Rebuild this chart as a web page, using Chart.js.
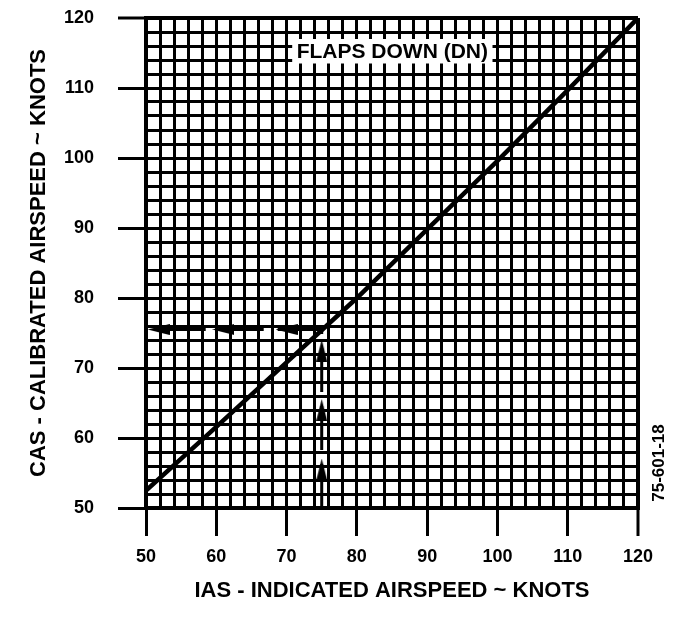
<!doctype html>
<html lang="en">
<head>
<meta charset="utf-8">
<title>Airspeed calibration - flaps down</title>
<script src="https://cdn.jsdelivr.net/npm/chart.js"></script>
<style>
  html, body { margin: 0; padding: 0; background: #fff; }
  #wrap { width: 674px; height: 618px; }
</style>
</head>
<body>
<div id="wrap"><canvas id="ias_cas" width="674" height="618"></canvas></div>
<script>
// calibration curve (IAS -> CAS, knots)
const iasKnots = [50, 60, 70, 80, 90, 100, 110, 120];
const casKnots = [52.5, 61.6, 70.8, 80, 89.8, 99.6, 109.7, 120];

// worked example: 75 kt IAS gives about 75.5 kt CAS
const exampleIas = 75;
const exampleCas = 75.5;
const upArrowsCas = [55.5, 64, 72.5];
const leftArrowsIas = [51.8, 61, 70];

// axis range, grid step and labelled ticks
const axisMin = 50;
const axisMax = 120;
const gridStep = 2;
const tickLabels = [50, 60, 70, 80, 90, 100, 110, 120];

const xTitle = 'IAS - INDICATED AIRSPEED ~ KNOTS';
const yTitle = 'CAS - CALIBRATED AIRSPEED ~ KNOTS';
const flapsLabel = 'FLAPS DOWN (DN)';
const figureId = '75-601-18';

const FONT = '"Liberation Sans", Arial, Helvetica, sans-serif';
Chart.defaults.font.family = FONT;
Chart.defaults.font.weight = 'bold';
Chart.defaults.color = '#000';

// narrow filled arrow head, tip up
function arrowHead(w, h) {
    const c = document.createElement('canvas');
    c.width = w;
    c.height = h;
    const g = c.getContext('2d');
    g.fillStyle = '#000';
    g.beginPath();
    g.moveTo(w / 2, 0);
    g.lineTo(w, h);
    g.lineTo(0, h);
    g.closePath();
    g.fill();
    return c;
}
const arrowImg = arrowHead(11, 22);

const isLabelled = v => tickLabels.includes(Math.round(v));

function gridOpts() {
    return {
        color: '#000',
        lineWidth: c => (Math.round(c.tick.value) === axisMax ? 4 : 3),
        tickLength: 28,
        tickWidth: 3,
        tickColor: c => (isLabelled(c.tick.value) ? '#000' : 'rgba(0,0,0,0)')
    };
}

// white box with the flaps label, and the figure number on the right
const notes = {
    id: 'notes',
    beforeDatasetsDraw(chart) {
        const { ctx, scales: { x, y } } = chart;
        const x1 = x.getPixelForValue(70.8), x2 = x.getPixelForValue(99.3);
        const y1 = y.getPixelForValue(117), y2 = y.getPixelForValue(113.5);
        ctx.save();
        ctx.fillStyle = '#fff';
        ctx.fillRect(x1, y1, x2 - x1, y2 - y1);
        ctx.fillStyle = '#000';
        ctx.font = 'bold 21px ' + FONT;
        ctx.textAlign = 'center';
        ctx.textBaseline = 'middle';
        ctx.fillText(flapsLabel, (x1 + x2) / 2, (y1 + y2) / 2 + 1);
        ctx.restore();
    },
    afterDraw(chart) {
        const { ctx, chartArea } = chart;
        ctx.save();
        ctx.translate(chartArea.right + 21, chartArea.bottom - 45);
        ctx.rotate(-Math.PI / 2);
        ctx.font = 'bold 17px ' + FONT;
        ctx.textAlign = 'center';
        ctx.textBaseline = 'middle';
        ctx.fillStyle = '#000';
        ctx.fillText(figureId, 0, 0);
        ctx.restore();
    }
};

new Chart(document.getElementById('ias_cas'), {
    type: 'line',
    data: {
        datasets: [
            {
                data: iasKnots.map((v, i) => ({ x: v, y: casKnots[i] })),
                borderColor: '#000',
                borderWidth: 4.5,
                pointRadius: 0,
                tension: 0
            },
            {
                data: [{ x: exampleIas, y: axisMin }, { x: exampleIas, y: exampleCas }],
                borderColor: '#000',
                borderWidth: 3,
                borderDash: [44, 14],
                pointRadius: 0
            },
            {
                data: [{ x: exampleIas, y: exampleCas }, { x: axisMin, y: exampleCas }],
                borderColor: '#000',
                borderWidth: 3,
                borderDash: [44, 14],
                pointRadius: 0
            },
            {
                type: 'scatter',
                data: upArrowsCas.map(v => ({ x: exampleIas, y: v })),
                pointStyle: arrowImg,
                pointRadius: 4,
                rotation: 0
            },
            {
                type: 'scatter',
                data: leftArrowsIas.map(v => ({ x: v, y: exampleCas })),
                pointStyle: arrowImg,
                pointRadius: 4,
                rotation: -90
            }
        ]
    },
    options: {
        responsive: false,
        animation: false,
        devicePixelRatio: 1,
        layout: { padding: { top: 18, right: 36, left: 0, bottom: 0 } },
        plugins: {
            legend: { display: false },
            tooltip: { enabled: false }
        },
        scales: {
            x: {
                type: 'linear',
                min: axisMin,
                max: axisMax,
                border: { color: '#000', width: 4 },
                grid: gridOpts(),
                ticks: {
                    stepSize: gridStep,
                    autoSkip: false,
                    maxRotation: 0,
                    padding: 10,
                    font: { size: 18, weight: 'bold' },
                    callback: v => (isLabelled(v) ? String(Math.round(v)) : '')
                },
                title: {
                    display: true,
                    text: xTitle,
                    font: { size: 22, weight: 'bold' },
                    padding: { top: 0, bottom: 14 }
                },
                afterFit: s => { s.height = 110; }
            },
            y: {
                type: 'linear',
                min: axisMin,
                max: axisMax,
                border: { color: '#000', width: 4 },
                grid: gridOpts(),
                ticks: {
                    stepSize: gridStep,
                    autoSkip: false,
                    padding: 24,
                    font: { size: 18, weight: 'bold' },
                    callback: v => (isLabelled(v) ? String(Math.round(v)) : '')
                },
                title: {
                    display: true,
                    text: yTitle,
                    font: { size: 22, weight: 'bold' },
                    padding: { top: 26, bottom: 0 }
                },
                // fixed axis width; drop the label overhang so the top padding decides
                afterFit: s => {
                    s.width = 146;
                    s.paddingTop = 0;
                    s.paddingBottom = 0;
                }
            }
        }
    },
    plugins: [notes]
});
</script>
</body>
</html>
